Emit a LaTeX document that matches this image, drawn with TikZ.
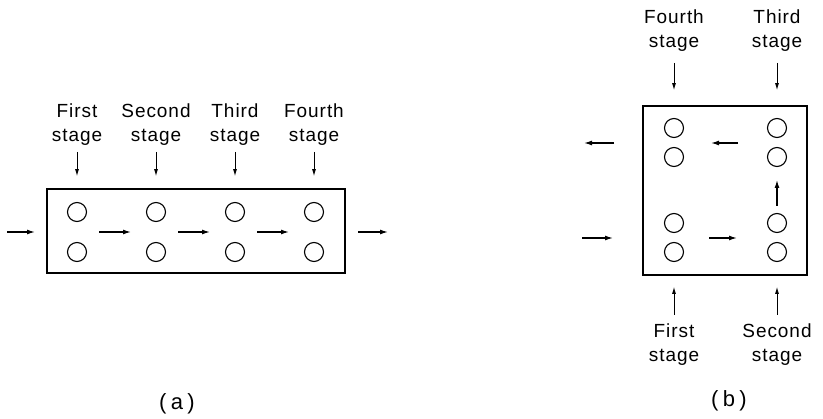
\documentclass[tikz,border=0pt]{standalone}
\usepackage{fontspec}
\setmainfont{Liberation Sans}[LetterSpace=5]
\usetikzlibrary{arrows.meta, positioning}

\begin{document}
\begin{tikzpicture}[x=1pt, y=-1pt, >={Latex[length=8pt,width=5pt]},
  hole/.style={circle, draw, line width=1.1pt, minimum size=19pt, inner sep=0pt},
  vessel/.style={draw, line width=1.7pt, inner sep=0pt},
  flow/.style={->, line width=1.3pt},
  feed/.style={->, line width=0.9pt, >={Latex[length=7pt,width=4pt]}},
  stagelabel/.style={align=center, inner sep=0pt, font=\fontsize{19}{24}\selectfont},
  caption/.style={inner sep=0pt, font=\fontsize{22}{26}\selectfont\addfontfeature{LetterSpace=20}}]
  \useasboundingbox (0,0) rectangle (823,419);

  % (a) four stages in a row
  \node[vessel, minimum width=298pt, minimum height=84pt] (boxa) at (196,231) {};
  \foreach \x [count=\i] in {77,156,235,314} {
    \node[hole] (at\i) at (\x,212) {};
    \node[hole] (ab\i) at (\x,252) {};
    \coordinate (am\i) at (\x,232);
  }
  \coordinate (ina) at (7,232);
  \coordinate (outa) at (388,232);
  \draw[flow, shorten >=42pt] (ina) -- (am1);
  \draw[flow, shorten <=22pt, shorten >=25pt] (am1) -- (am2);
  \draw[flow, shorten <=22pt, shorten >=25pt] (am2) -- (am3);
  \draw[flow, shorten <=22pt, shorten >=25pt] (am3) -- (am4);
  \draw[flow, shorten <=44pt] (am4) -- (outa);

  \node[stagelabel, anchor=south] (la1) at (77,146) {First\\stage};
  \node[stagelabel, anchor=south] (la2) at (156,146) {Second\\stage};
  \node[stagelabel, anchor=south] (la3) at (235,146) {Third\\stage};
  \node[stagelabel, anchor=south] (la4) at (314,146) {Fourth\\stage};
  \foreach \i in {1,...,4}
    \draw[feed, shorten <=6pt, shorten >=12pt] (la\i) -- (la\i |- boxa.north);

  \node[caption] (capa) at (177,404) {(a)};

  % (b) stages folded into a square
  \node[vessel, minimum width=164pt, minimum height=169pt] (boxb) at (725,190.5) {};
  \foreach \y [count=\i] in {128,157,223,252} {
    \node[hole] (bl\i) at (674,\y) {};
    \node[hole] (br\i) at (777,\y) {};
  }
  \coordinate (blu) at (674,143);
  \coordinate (bru) at (777,143);
  \coordinate (bld) at (674,238);
  \coordinate (brd) at (777,238);
  \coordinate (inb) at (582,238);
  \coordinate (outb) at (584,143);
  \draw[flow, shorten >=61pt] (inb) -- (bld);
  \draw[flow, shorten <=35pt, shorten >=40pt] (bld) -- (brd);
  \draw[flow, shorten <=32pt, shorten >=37pt] (brd) -- (bru);
  \draw[flow, shorten <=39pt, shorten >=37pt] (bru) -- (blu);
  \draw[flow, shorten <=60pt] (blu) -- (outb);

  \node[stagelabel, anchor=south] (lb4) at (674,52) {Fourth\\stage};
  \node[stagelabel, anchor=south] (lb3) at (777,52) {Third\\stage};
  \node[stagelabel, anchor=north] (lb1) at (674,324) {First\\stage};
  \node[stagelabel, anchor=north] (lb2) at (777,324) {Second\\stage};
  \draw[feed, shorten <=11pt, shorten >=15pt] (lb4) -- (lb4 |- boxb.north);
  \draw[feed, shorten <=11pt, shorten >=15pt] (lb3) -- (lb3 |- boxb.north);
  \draw[feed, shorten <=9pt, shorten >=11pt] (lb1) -- (lb1 |- boxb.south);
  \draw[feed, shorten <=9pt, shorten >=11pt] (lb2) -- (lb2 |- boxb.south);

  \node[caption] (capb) at (729,401) {(b)};
\end{tikzpicture}
\end{document}
